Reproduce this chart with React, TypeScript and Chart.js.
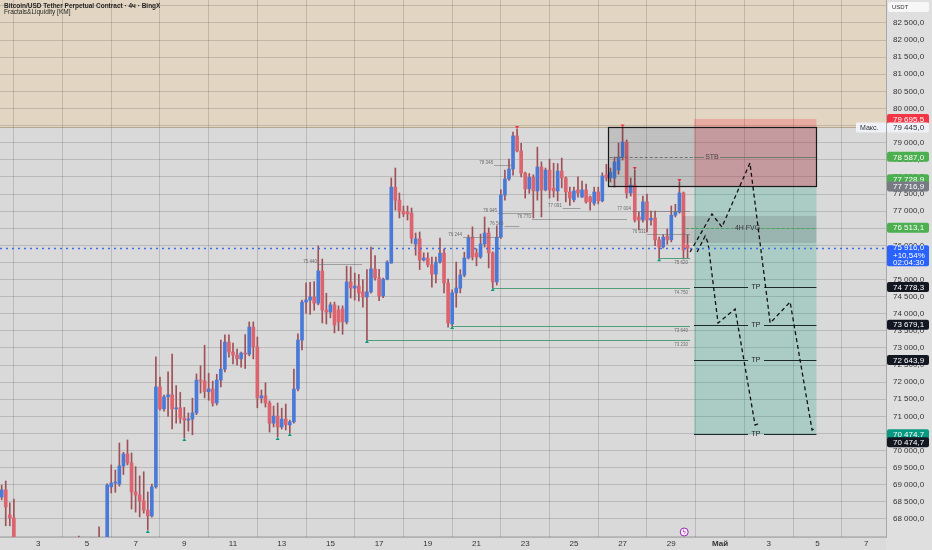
import React, { useEffect, useRef } from "react";
import { Chart, registerables } from "chart.js";

Chart.register(...registerables);

// ---------- candles: BTC/USDT perpetual, 4h bars, April ----------
const FIRST_DAY = 1.5; // first bar = Apr 1, 12:00
const BARS_PER_DAY = 6;

const openP = [
  68640, 68850, 68120, 68030, 67250, 66900, 66650, 66800, 66500, 66350,
  66600, 66450, 66200, 66400, 66700, 66550, 66800, 66650, 66900, 67100,
  67050, 66800, 66950, 66700, 66850, 66700, 66900, 68940, 69050, 69020,
  69550, 69900, 69640, 68790, 68700, 68530, 68260, 68090, 68940, 71860,
  71220, 71570, 71630, 71220, 71250, 70950, 70890, 70920, 71100, 72060,
  72030, 71720, 71800, 71390, 72060, 72380, 73170, 72880, 72790, 72680,
  72850, 72820, 73610, 73030, 71540, 71600, 71390, 70800, 71010, 70690,
  70920, 70750, 70840, 71800, 73230, 74340, 74400, 74490, 74310, 75250,
  74110, 74050, 74260, 74110, 74140, 73760, 74930, 74750, 74810, 74640,
  74490, 74640, 75310, 75050, 74520, 75010, 75480, 77700, 77320, 77000,
  76970, 76940, 76040, 76190, 75570, 75630, 75430, 75160, 75510, 75770,
  74900, 73700, 74610, 74750, 75130, 75630, 76240, 75770, 75660, 76040,
  76360, 75780, 74930, 76240, 77470, 77940, 78230, 79200, 78760, 78110,
  77650, 77990, 77590, 78290, 77620, 78200, 77670, 77590, 78170, 77970,
  77560, 77330, 77620, 77410, 77620, 77410, 77230, 77560, 77300, 78060,
  77970, 77970, 78200, 78580, 79020, 77530, 77760, 76830, 76740, 77270,
  76740, 76800, 76160, 75950, 76270, 76160, 76880, 76970, 77530, 76010,
];
const highP = [
  68990, 69110, 68470, 68580, 67300, 67050, 66950, 66900, 66700, 66750,
  66800, 66550, 66600, 66850, 66900, 67000, 67100, 67200, 67300, 67500,
  67200, 67100, 67150, 67000, 67770, 67100, 69030, 69580, 69430, 70220,
  69950, 70310, 69930, 69530, 69260, 69380, 68790, 69020, 72740, 72150,
  71620, 72300, 72820, 71900, 71700, 71260, 71100, 71530, 72240, 72480,
  73080, 72260, 72030, 72230, 73230, 73380, 73380, 73140, 72970, 72880,
  73390, 73760, 73760, 73320, 71770, 71980, 71450, 71300, 71390, 71240,
  71360, 70890, 72380, 73410, 74400, 74900, 74920, 74940, 75980, 75600,
  74600, 74330, 74340, 74230, 74230, 75390, 75370, 75190, 75150, 75000,
  75290, 75950, 75700, 75300, 75040, 75550, 77970, 78260, 77530, 77150,
  77150, 77090, 76360, 76390, 75780, 75780, 75660, 75660, 76210, 75890,
  75010, 74700, 75510, 75290, 75800, 76300, 76540, 75900, 76330, 76830,
  76510, 75810, 76570, 77620, 78200, 78520, 79310, 79400, 78980, 78140,
  78100, 78060, 78870, 78440, 78260, 78520, 78400, 78390, 78550, 78000,
  77700, 77700, 78000, 77880, 77790, 77440, 77700, 77700, 78120, 78370,
  78260, 78580, 78990, 79445, 79080, 77970, 78200, 76970, 77440, 77500,
  77000, 77000, 76240, 76310, 76480, 77150, 77200, 77850, 77560, 76300,
];
const lowP = [
  68560, 67800, 67800, 67100, 66700, 66500, 66400, 66300, 66100, 66200,
  66300, 65900, 66000, 66300, 66400, 66450, 66500, 66600, 66800, 66900,
  66600, 66700, 66500, 66600, 66500, 66600, 66800, 68760, 68780, 68960,
  69300, 69580, 68290, 68200, 68060, 68170, 67680, 68050, 68900, 71180,
  71150, 71000, 70630, 70800, 70800, 70370, 70570, 70460, 71050, 71680,
  71540, 71470, 71300, 71330, 71860, 72300, 72730, 72530, 72500, 72440,
  72400, 72770, 72680, 71250, 71390, 71270, 70540, 70690, 70400, 70630,
  70600, 70510, 70800, 71740, 72940, 74020, 73980, 74100, 74260, 73730,
  73700, 73880, 73440, 73500, 73400, 73700, 74460, 74400, 74370, 74190,
  73230, 74600, 74980, 74380, 74470, 74990, 75480, 77030, 76800, 76840,
  76740, 76060, 75710, 75290, 75540, 75370, 74780, 74900, 75480, 74610,
  73610, 73640, 74190, 74610, 75080, 75600, 75570, 75400, 75620, 75950,
  75340, 74750, 74840, 76200, 77320, 77900, 78050, 78730, 78000, 77380,
  77520, 76800, 77320, 76830, 77590, 77380, 77410, 77300, 77680, 77270,
  77170, 77270, 77410, 77400, 77230, 77030, 77170, 77210, 77270, 77880,
  77850, 77700, 78080, 78490, 77380, 77440, 76680, 76450, 76680, 76390,
  76590, 75990, 75620, 75920, 76030, 76100, 76830, 76940, 75600, 75620,
];
const closeP = [
  68850, 68350, 68030, 67250, 66900, 66650, 66800, 66500, 66350, 66600,
  66450, 66200, 66400, 66700, 66550, 66800, 66650, 66900, 67100, 67050,
  66800, 66950, 66700, 66850, 66700, 66900, 68990, 69050, 69080, 69550,
  69900, 69640, 68790, 68700, 68530, 68260, 68090, 68940, 71860, 71220,
  71570, 71630, 71220, 71250, 70950, 70890, 70920, 71100, 72060, 72030,
  71720, 71800, 71390, 72060, 72380, 73170, 72880, 72790, 72680, 72850,
  72820, 73610, 73030, 71540, 71600, 71390, 70800, 71010, 70690, 70920,
  70750, 70840, 71800, 73230, 74340, 74400, 74490, 74310, 75250, 74110,
  74050, 74260, 73670, 73760, 73760, 74930, 74750, 74810, 74600, 74490,
  74640, 75310, 75050, 74520, 75010, 75510, 77700, 77320, 77000, 76920,
  76920, 76210, 76190, 75570, 75630, 75430, 75160, 75510, 75770, 74900,
  73730, 74610, 74750, 75130, 75630, 76210, 75660, 75660, 76040, 76360,
  75780, 74930, 76240, 77470, 77940, 78230, 79200, 78760, 78110, 77650,
  77990, 77590, 78290, 77620, 78200, 77620, 77590, 78170, 77970, 77560,
  77380, 77590, 77530, 77620, 77270, 77270, 77560, 77300, 78030, 77970,
  78140, 78440, 78580, 79020, 77530, 77760, 76740, 76740, 77270, 76740,
  76790, 76160, 75950, 76240, 76160, 76880, 76970, 77530, 75860, 75916,
];

// ---------- axes ----------
const xTickDays = [3, 5, 7, 9, 11, 13, 15, 17, 19, 21, 23, 25, 27, 29, 31, 33, 35, 37];
const MAY_FIRST = 31;
const X_MIN = 1.431;
const X_MAX = 37.817;
const Y_MIN = 67473;
const Y_MAX = 83172;
const Y_STEP = 500;
const Y_LABEL_MIN = 68000;
const Y_LABEL_MAX = 82500;

// ---------- levels & zones ----------
const maxPrice = 79445;
const lastPrice = 75916;
const lastChange = "+10,54%";
const lastTimer = "02:04:30";

const tradeStartDay = 29.93;
const tradeEndDay = 34.96;
const stopPrice = 79695.5;
const entryPrice = 77716.9;
const targetPrice = 70474.7;
const tpPrices = [74778.3, 73679.1, 72643.9, 70474.7];
const tpLabelDay = 32.48;

const boxStartDay = 26.4;
const boxTopPrice = 79445;
const boxBottomPrice = 77716.9;

const stbPrice = 78587;
const stbStartDay = 26.47;
const stbLabelDay = 30.67;

const fvgStartDay = 29.47;
const fvgLineStartDay = 29.6;
const fvgTopPrice = 76856;
const fvgBottomPrice = 76068;
const fvgMidPrice = 76513.1;
const fvgLabelDay = 32.13;

// projected paths (dashed)
const pathADays = [29.77, 30.67, 31.08, 32.23, 33.06, 33.88, 34.78, 34.94];
const pathAPrices = [75805, 76916, 76536, 78407, 73729, 74343, 70601, 70660];
const pathBDays = [30.06, 30.39, 30.51, 30.92, 31.62, 32.44, 32.65];
const pathBPrices = [75805, 76273, 76068, 73729, 74138, 70747, 70806];

// liquidity (fractals)
const greenLiqIdx = [90, 111, 121, 162];
const liqEndDay = 29.77;
const greenFractalIdx = [36, 45, 68, 71, 90, 111, 121, 162];
const redFractalIdx = [127, 153, 156, 167];
const grayLiqPrice = [78348, 76244, 76565, 76945, 76770, 77091, 77004, 76331, 75440];
const grayLiqFrom = [21.72, 20.45, 22.15, 21.88, 23.28, 24.54, 27.39, 28.0, 14.49];
const grayLiqTo = [22.46, 21.96, 22.76, 23.28, 27.18, 25.27, 29.77, 29.77, 16.3];

// price-scale labels
const axisLabelPrices = [79695.5, 79445, 78587, 77728.9, 77716.9, 76513.1, 74778.3, 73679.1, 72643.9, 70474.7, 70474.7];
const axisLabelBg = ["#f23645", "#eef1f8", "#4caf50", "#4caf50", "#787b86", "#4caf50", "#131722", "#131722", "#131722", "#089981", "#131722"];
const axisLabelFg = ["#fff", "#333", "#fff", "#fff", "#fff", "#fff", "#fff", "#fff", "#fff", "#fff", "#fff"];
const axisLabelNudge = [0, 0, 0, -7, 0, 0, 0, 0, 0, 0, 8];

const eventDay = 29.53;

const titleLine1 = "Bitcoin/USD Tether Perpetual Contract · 4ч · BingX";
const titleLine2 = "Fractals&Liquidity [KM]";

// ---------- styles ----------
const FONT = "'Liberation Sans', Arial, sans-serif";
const BULL = "#4a7ad8";
const BEAR = "#dc646e";
const WICK = "#9e5158";
const PLOT_BG = "#d9d9d9";
const AXIS_BG = "#dfdfdf";
const TAN = "#e2d6c3";
const GRID = "rgba(0,0,0,0.14)";

const dayOf = (i: number) => FIRST_DAY + i / BARS_PER_DAY;

function fmtPrice(v: number): string {
  const [ip, dp] = Math.abs(v).toFixed(1).split(".");
  return ip.replace(/\B(?=(\d{3})+(?!\d))/g, " ") + "," + dp;
}
function fmtShort(v: number): string {
  const s = Math.round(v).toString();
  return s.replace(/\B(?=(\d{3})+(?!\d))/g, " ");
}

function seg(ctx: any, x1: number, y1: number, x2: number, y2: number, color: string, width = 1, dash: number[] = []) {
  ctx.save();
  ctx.strokeStyle = color;
  ctx.lineWidth = width;
  ctx.setLineDash(dash);
  ctx.beginPath();
  ctx.moveTo(x1, y1);
  ctx.lineTo(x2, y2);
  ctx.stroke();
  ctx.restore();
}
function txt(ctx: any, s: string, x: number, y: number, font: string, color: string, align = "left") {
  ctx.save();
  ctx.font = font;
  ctx.fillStyle = color;
  ctx.textAlign = align;
  ctx.textBaseline = "middle";
  ctx.fillText(s, x, y);
  ctx.restore();
}
function rrect(ctx: any, x: number, y: number, w: number, h: number, r: number, fill: string) {
  ctx.save();
  ctx.fillStyle = fill;
  ctx.beginPath();
  ctx.moveTo(x + r, y);
  ctx.lineTo(x + w - r, y);
  ctx.quadraticCurveTo(x + w, y, x + w, y + r);
  ctx.lineTo(x + w, y + h - r);
  ctx.quadraticCurveTo(x + w, y + h, x + w - r, y + h);
  ctx.lineTo(x + r, y + h);
  ctx.quadraticCurveTo(x, y + h, x, y + h - r);
  ctx.lineTo(x, y + r);
  ctx.quadraticCurveTo(x, y, x + r, y);
  ctx.closePath();
  ctx.fill();
  ctx.restore();
}
const crisp = (v: number) => Math.round(v) + 0.5;

export default function App() {
  const ref = useRef<HTMLCanvasElement>(null);

  useEffect(() => {
    document.body.style.margin = "0";
    const canvas = ref.current;
    if (!canvas) return;

    const bodies = openP.map((o, i) => ({ x: dayOf(i), y: [o, closeP[i]] }));
    const wicks = openP.map((_, i) => ({ x: dayOf(i), y: [lowP[i], highP[i]] }));
    const bodyColors = openP.map((o, i) => (closeP[i] >= o ? BULL : BEAR));

    const overlay = {
      id: "overlay",
      beforeDraw(chart: any) {
        const { ctx, chartArea: ca } = chart;
        const y = chart.scales.y;
        ctx.save();
        ctx.fillStyle = AXIS_BG;
        ctx.fillRect(0, 0, chart.width, chart.height);
        ctx.fillStyle = PLOT_BG;
        ctx.fillRect(ca.left, ca.top, ca.right - ca.left, ca.bottom - ca.top);
        ctx.fillStyle = "#dbdbdb";
        ctx.fillRect(0, ca.bottom, ca.right, chart.height - ca.bottom);
        const yMax = y.getPixelForValue(maxPrice);
        ctx.fillStyle = TAN;
        ctx.fillRect(ca.left, ca.top, ca.right - ca.left, yMax - ca.top);
        ctx.restore();
      },
      afterDatasetsDraw(chart: any) {
        const { ctx, chartArea: ca } = chart;
        const X = (d: number) => chart.scales.x.getPixelForValue(d);
        const Y = (p: number) => chart.scales.y.getPixelForValue(p);
        ctx.save();
        ctx.beginPath();
        ctx.rect(ca.left, ca.top, ca.right - ca.left, ca.bottom - ca.top);
        ctx.clip();

        // max line
        seg(ctx, ca.left, crisp(Y(maxPrice)), ca.right, crisp(Y(maxPrice)), "rgba(150,125,90,0.55)", 1);

        // gray liquidity lines
        grayLiqPrice.forEach((p, k) => {
          const yy = crisp(Y(p));
          seg(ctx, X(grayLiqFrom[k]), yy, X(grayLiqTo[k]), yy, "rgba(110,110,110,0.55)", 1);
          txt(ctx, fmtShort(p), X(grayLiqFrom[k]) - 1, yy - 3, `4.5px ${FONT}`, "#6d6d6d", "right");
        });

        // green liquidity lines
        greenLiqIdx.forEach((i) => {
          const yy = crisp(Y(lowP[i]));
          seg(ctx, X(dayOf(i)), yy, X(liqEndDay), yy, "#4f9f7a", 1);
          txt(ctx, fmtShort(lowP[i]), X(liqEndDay) - 2, yy + 4, `4.5px ${FONT}`, "#6d6d6d", "right");
        });

        // fractal marks
        greenFractalIdx.forEach((i) => {
          const xx = X(dayOf(i));
          const yy = Y(lowP[i]);
          ctx.fillStyle = "#089981";
          ctx.beginPath();
          ctx.moveTo(xx, yy);
          ctx.lineTo(xx - 2, yy + 3);
          ctx.lineTo(xx + 2, yy + 3);
          ctx.closePath();
          ctx.fill();
        });
        redFractalIdx.forEach((i) => {
          const xx = X(dayOf(i));
          const yy = Y(highP[i]);
          ctx.fillStyle = "#f23645";
          ctx.beginPath();
          ctx.moveTo(xx, yy);
          ctx.lineTo(xx - 2, yy - 3);
          ctx.lineTo(xx + 2, yy - 3);
          ctx.closePath();
          ctx.fill();
        });

        // trade zones
        const tx1 = X(tradeStartDay);
        const tx2 = X(tradeEndDay);
        ctx.fillStyle = "rgba(242,54,69,0.27)";
        ctx.fillRect(tx1, Y(stopPrice), tx2 - tx1, Y(entryPrice) - Y(stopPrice));
        ctx.fillStyle = "rgba(8,153,129,0.22)";
        ctx.fillRect(tx1, Y(entryPrice), tx2 - tx1, Y(targetPrice) - Y(entryPrice));

        // black box
        const bx1 = X(boxStartDay);
        const by1 = Y(boxTopPrice);
        const by2 = Y(boxBottomPrice);
        ctx.fillStyle = "rgba(40,40,40,0.14)";
        ctx.fillRect(bx1, by1, tx2 - bx1, by2 - by1);

        // FVG box
        const fx1 = X(fvgStartDay);
        ctx.fillStyle = "rgba(70,70,70,0.16)";
        ctx.fillRect(fx1, Y(fvgTopPrice), tx2 - fx1, Y(fvgBottomPrice) - Y(fvgTopPrice));

        // STB line
        const sy = crisp(Y(stbPrice));
        const sLabelX = X(stbLabelDay);
        seg(ctx, X(stbStartDay), sy, tx1, sy, "rgba(90,90,90,0.8)", 1, [3, 2]);
        seg(ctx, tx1, sy, sLabelX - 8, sy, "rgba(100,120,100,0.9)", 1);
        seg(ctx, sLabelX + 8, sy, tx2, sy, "rgba(100,120,100,0.9)", 1);
        txt(ctx, "STB", sLabelX, sy, `7px ${FONT}`, "#444", "center");

        // FVG mid line & label
        const fy = crisp(Y(fvgMidPrice));
        const fLabelX = X(fvgLabelDay);
        seg(ctx, X(fvgLineStartDay), fy, fLabelX - 14, fy, "#46a35a", 1, [3, 2]);
        seg(ctx, fLabelX + 14, fy, tx2, fy, "#46a35a", 1, [3, 2]);
        txt(ctx, "4H FVG", fLabelX, fy, `7px ${FONT}`, "#333", "center");

        // TP lines
        const tpX = X(tpLabelDay);
        tpPrices.forEach((p) => {
          const yy = crisp(Y(p));
          seg(ctx, tx1, yy, tpX - 8, yy, "#1e2a26", 1.2);
          seg(ctx, tpX + 8, yy, tx2, yy, "#1e2a26", 1.2);
          txt(ctx, "TP", tpX, yy, `7px ${FONT}`, "#222", "center");
        });

        // black box outline
        ctx.strokeStyle = "#1a1a1a";
        ctx.lineWidth = 1.2;
        ctx.strokeRect(crisp(bx1), crisp(by1), Math.round(tx2 - bx1), Math.round(by2 - by1));

        // projected paths
        [[pathADays, pathAPrices], [pathBDays, pathBPrices]].forEach(([ds, ps]) => {
          ctx.save();
          ctx.strokeStyle = "#111";
          ctx.lineWidth = 1.3;
          ctx.setLineDash([4, 3]);
          ctx.beginPath();
          ds.forEach((d: number, k: number) => {
            const xx = X(d);
            const yy = Y(ps[k]);
            if (k === 0) ctx.moveTo(xx, yy);
            else ctx.lineTo(xx, yy);
          });
          ctx.stroke();
          ctx.restore();
        });

        // last price dotted line
        const ly = crisp(Y(lastPrice));
        seg(ctx, ca.left, ly, ca.right, ly, "#3a6ee8", 1.5, [2, 4]);

        ctx.restore();
      },
      afterDraw(chart: any) {
        const { ctx, chartArea: ca } = chart;
        const X = (d: number) => chart.scales.x.getPixelForValue(d);
        const Y = (p: number) => chart.scales.y.getPixelForValue(p);

        // title
        txt(ctx, titleLine1, 4, 6, `bold 6.5px ${FONT}`, "#1f1f1f");
        txt(ctx, titleLine2, 4, 12.5, `6.5px ${FONT}`, "#1f1f1f");

        // USDT box
        rrect(ctx, ca.right + 2, 2, 41, 10, 2, "#f7f7f7");
        txt(ctx, "USDT", ca.right + 6, 7, `6px ${FONT}`, "#333");

        // axis labels
        axisLabelPrices.forEach((p, k) => {
          const yy = Y(p) + axisLabelNudge[k];
          rrect(ctx, ca.right + 1, yy - 5, 42, 10, 2, axisLabelBg[k]);
          txt(ctx, fmtPrice(p), ca.right + 7, yy + 0.5, `8px ${FONT}`, axisLabelFg[k]);
        });
        // Макс. tag
        const my = Y(maxPrice);
        rrect(ctx, ca.right - 30, my - 5, 30, 10, 1, "#eef1f8");
        txt(ctx, "Макс.", ca.right - 26, my + 0.5, `7px ${FONT}`, "#333");

        // last price block
        const ly = Y(lastPrice);
        rrect(ctx, ca.right + 1, ly - 3, 42, 21, 2, "#2962ff");
        txt(ctx, fmtPrice(lastPrice), ca.right + 7, ly, `8px ${FONT}`, "#fff");
        txt(ctx, lastChange, ca.right + 7, ly + 7.5, `8px ${FONT}`, "#fff");
        txt(ctx, lastTimer, ca.right + 7, ly + 15, `8px ${FONT}`, "#fff");

        // event marker
        const ex = X(eventDay);
        const ey = ca.bottom - 5;
        ctx.save();
        ctx.fillStyle = "#f6eef8";
        ctx.strokeStyle = "#9c27b0";
        ctx.lineWidth = 1;
        ctx.beginPath();
        ctx.arc(ex, ey, 4, 0, Math.PI * 2);
        ctx.fill();
        ctx.stroke();
        ctx.restore();
        txt(ctx, "ϟ", ex, ey + 0.5, `6px 'DejaVu Sans', sans-serif`, "#9c27b0", "center");
      },
    };

    const chart = new Chart(canvas, {
      type: "bar",
      data: {
        datasets: [
          {
            data: bodies as any,
            backgroundColor: bodyColors,
            barThickness: 3,
            minBarLength: 1,
            grouped: false,
            order: 0,
            borderWidth: 0,
          } as any,
          {
            data: wicks as any,
            backgroundColor: WICK,
            barThickness: 1,
            grouped: false,
            order: 1,
            borderWidth: 0,
          } as any,
        ],
      },
      options: {
        responsive: false,
        animation: false,
        events: [],
        layout: { padding: 0 },
        plugins: { legend: { display: false }, tooltip: { enabled: false } },
        scales: {
          x: {
            type: "linear",
            min: X_MIN,
            max: X_MAX,
            offset: false,
            afterBuildTicks: (s: any) => {
              s.ticks = xTickDays.map((v) => ({ value: v }));
            },
            afterFit: (s: any) => {
              s.height = 13;
              s.paddingLeft = 0;
              s.paddingRight = 0;
            },
            grid: { color: GRID, drawTicks: false, lineWidth: 1 },
            border: { color: "#b3b3b3" },
            ticks: {
              padding: 2,
              color: "#333",
              autoSkip: false,
              maxRotation: 0,
              font: (c: any) => ({
                family: FONT,
                size: 8,
                weight: c.tick && c.tick.value === MAY_FIRST ? "bold" : "normal",
              }),
              callback: (v: any) =>
                v === MAY_FIRST ? "Май" : v > MAY_FIRST ? String(v - (MAY_FIRST - 1)) : String(v),
            },
          },
          y: {
            type: "linear",
            position: "right",
            min: Y_MIN,
            max: Y_MAX,
            afterBuildTicks: (s: any) => {
              const t: any[] = [];
              for (let v = Math.ceil(Y_MIN / Y_STEP) * Y_STEP; v <= Y_MAX; v += Y_STEP) t.push({ value: v });
              s.ticks = t;
            },
            afterFit: (s: any) => {
              s.width = 46;
              s.paddingTop = 0;
              s.paddingBottom = 0;
            },
            grid: { color: GRID, drawTicks: false, lineWidth: 1 },
            border: { color: "#a8a8a8" },
            ticks: {
              autoSkip: false,
              padding: 7,
              color: "#333",
              font: { family: FONT, size: 8 },
              callback: (v: any) => (v < Y_LABEL_MIN || v > Y_LABEL_MAX ? "" : fmtPrice(v)),
            },
          },
        },
      } as any,
      plugins: [overlay],
    });

    return () => chart.destroy();
  }, []);

  return <canvas ref={ref} width={932} height={550} style={{ display: "block" }} />;
}
